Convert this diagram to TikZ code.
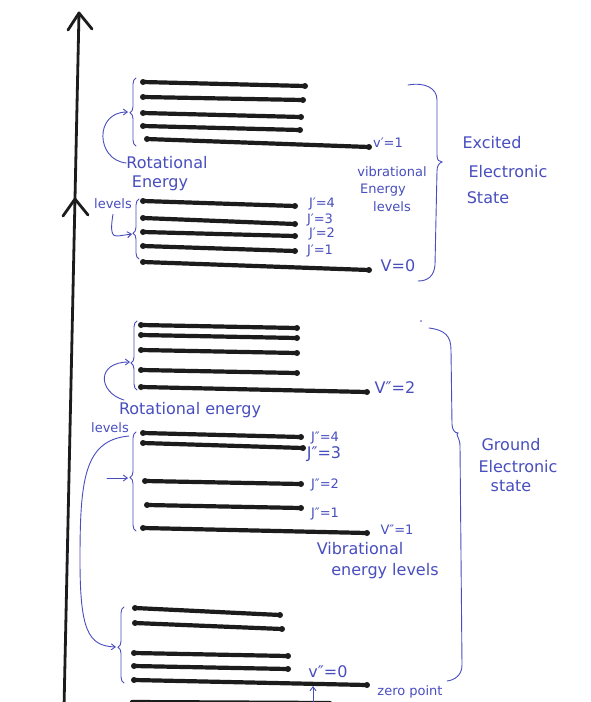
\documentclass[tikz,border=0pt]{standalone}
\usepackage{fontspec}
\setmainfont{DejaVu Sans}
\usetikzlibrary{decorations.pathreplacing,arrows.meta}
\definecolor{ink}{RGB}{72,78,190}
\definecolor{lvlc}{RGB}{28,28,28}
\newcommand\enlev[4]{%
  \draw[lvlline] (#1,#2) -- (#3,#4);
  \fill[lvlc] (#1,#2) circle[radius=3pt] (#3,#4) circle[radius=3pt];}
\begin{document}
\begin{tikzpicture}[x=1pt,y=-1pt,
  lvlline/.style={line width=4.2pt,draw=lvlc,line cap=round},
  axisline/.style={line width=2.8pt,draw=lvlc,line cap=round,line join=round},
  inkline/.style={draw=ink,line width=0.9pt,line cap=round},
  inkarrow/.style={inkline,-{Straight Barb[length=4pt,width=6pt]}},
  lbrace/.style={inkline,decorate,decoration={brace,amplitude=6pt,aspect=#1}},
  lbl/.style={text=ink,inner sep=0pt,font=\fontsize{16}{17}\selectfont},
  slbl/.style={text=ink,inner sep=0pt,font=\fontsize{13}{14}\selectfont}]
\useasboundingbox (0,0) rectangle (590,702);
\fill[white] (0,0) rectangle (590,702);

% energy axis
\coordinate (axtop) at (79,13);
\coordinate (axbot) at (64,708);
\coordinate (ax2) at (75,199);
\draw[axisline] (axbot) -- (axtop);
\draw[axisline] (68,30) -- (axtop) -- (92,29);
\draw[axisline] (63,216) -- (ax2) -- (88,215);

% excited state, v'=1
\enlev{143}{82}{305}{86}
\enlev{143}{97}{303}{100}
\enlev{143}{113}{301}{117}
\enlev{143}{126}{300}{130}
\enlev{147}{139}{369}{147}
% excited state, v'=0
\enlev{143}{201}{295}{206}
\enlev{143}{218}{295}{224}
\enlev{143}{232}{295}{236}
\enlev{143}{246}{295}{251}
\enlev{143}{262}{369}{270}
% ground state, v''=2
\enlev{141}{325}{297}{328}
\enlev{141}{335}{297}{338}
\enlev{141}{350}{297}{353}
\enlev{141}{370}{297}{373}
\enlev{141}{387}{367}{392}
% ground state, v''=1
\enlev{143}{433}{301}{437}
\enlev{143}{443}{303}{448}
\enlev{145}{481}{301}{484}
\enlev{147}{505}{301}{508}
\enlev{143}{528}{367}{533}
% ground state, v''=0
\enlev{135}{608}{280}{615}
\enlev{135}{623}{282}{629}
\enlev{134}{653}{288}{656}
\enlev{134}{666}{288}{669}
\enlev{134}{680}{367}{685}
\draw[lvlline] (132,702) -- (330,703);

% left braces
\draw[lbrace=0.49] (136,146) -- (136,78);
\coordinate (c1) at (128,112);
\draw[lbrace=0.43] (139,259) -- (139,199);
\coordinate (c2) at (132,234);
\draw[lbrace=0.39] (137,390) -- (137,321);
\coordinate (c3) at (130,362);
\draw[lbrace=0.54] (136,531) -- (136,432);
\coordinate (c4) at (128,478);
\draw[lbrace=0.47] (124,683) -- (124,607);
\coordinate (c5) at (116,647);

% right brackets
\draw[inkline] (408,85) .. controls (425,82) and (437,88) .. (437,100)
  -- (437,155) .. controls (437,160) and (439,162) .. (442,162)
  .. controls (439,163) and (437,166) .. (437,171)
  -- (435,265) .. controls (434,276) and (428,281) .. (418,281);
\fill[ink] (421,321) circle[radius=0.9pt];
\draw[inkline] (429,328) .. controls (445,330) and (451,336) .. (451,350)
  -- (452,424) .. controls (452,430) and (455,433) .. (458,433)
  .. controls (455,434) and (460,438) .. (460,446)
  -- (462,665) .. controls (462,675) and (455,680) .. (447,681);

% labels
\node[lbl] (rot1) at (167,163) {Rotational};
\node[lbl] (en1) at (160,183) {Energy};
\node[slbl] (lev1) at (113,204) {levels};
\node[slbl] (v1) at (388,143) {v′=1};
\node[slbl] (j4a) at (322,204) {J′=4};
\node[slbl] (j3a) at (320,220) {J′=3};
\node[slbl] (j2a) at (322,234) {J′=2};
\node[slbl] (j1a) at (320,251) {J′=1};
\node[lbl] (v0) at (398,266) {V=0};
\node[slbl] (vib1) at (392,172) {vibrational};
\node[slbl] (en2) at (383,190) {Energy};
\node[slbl] (lev2) at (392,207) {levels};
\node[lbl] (exc) at (492,143) {Excited};
\node[lbl] (ele1) at (508,172) {Electronic};
\node[lbl] (sta1) at (488,198) {State};

\node[lbl] (v2g) at (395,388) {V″=2};
\node[lbl] (rot2) at (190,410) {Rotational energy};
\node[slbl] (lev3) at (110,428) {levels};
\node[slbl] (j4b) at (325,438) {J″=4};
\node[lbl] (j3b) at (324,454) {J″=3};
\node[slbl] (j2b) at (325,485) {J″=2};
\node[slbl] (j1b) at (325,514) {J″=1};
\node[slbl] (v1g) at (397,530) {V″=1};
\node[lbl] (vib2) at (360,549) {Vibrational};
\node[lbl] (enl) at (385,571) {energy levels};
\node[lbl] (gro) at (511,445) {Ground};
\node[lbl] (ele2) at (518,467) {Electronic};
\node[lbl] (sta2) at (511,486) {state};
\node[lbl] (v0g) at (328,672) {v″=0};
\node[slbl] (zp) at (410,692) {zero point};

% pointer arrows
\draw[inkarrow] (rot1.west) .. controls (96,160) and (94,112) .. (c1);
\draw[inkarrow] (lev1.south) ++(0,5) .. controls (110,232) and (112,237) .. (118,236) -- (c2);
\draw[inkarrow] (rot2.west) ++(5,-10) .. controls (98,392) and (96,362) .. (c3);
\draw[inkarrow] (107,478) -- (c4);
\draw[inkarrow] (lev3.east) ++(0,8) .. controls (84,440) and (80,480) .. (80,560)
  .. controls (80,630) and (88,646) .. (c5);
\coordinate (zpt) at (313,686);
\coordinate (zpb) at (313,702);
\draw[inkarrow] (zpb) -- (zpt);
\end{tikzpicture}
\end{document}
